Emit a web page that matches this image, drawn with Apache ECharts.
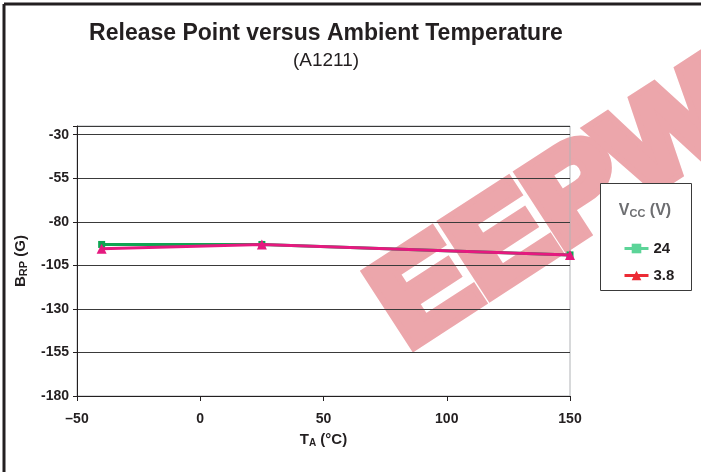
<!DOCTYPE html>
<html>
<head>
<meta charset="utf-8">
<script src="https://cdn.jsdelivr.net/npm/echarts@6/dist/echarts.min.js"></script>
<style>
  html, body { margin: 0; padding: 0; background: #fff; }
  #main { width: 701px; height: 472px; }
</style>
</head>
<body>
<div id="main"></div>
<script>
// temperatures (°C) and release point (G)
var temps = [-40, 25, 150];
var vcc24 = [-93, -93, -99];
var vcc38 = [-95.5, -93, -99];
var seriesNames = ['24', '3.8'];
var yTicks = [-180, -155, -130, -105, -80, -55, -30];

var font = 'Liberation Sans, Arial, sans-serif';
var ink = '#231f20';

function pairs(xs, ys) {
    var out = [];
    for (var i = 0; i < xs.length; i++) {
        out.push([xs[i], ys[i]]);
    }
    return out;
}

var chart = echarts.init(document.getElementById('main'));

var option = {
    backgroundColor: '#fff',
    animation: false,
    textStyle: { fontFamily: font },
    title: {
        text: 'Release Point versus Ambient Temperature',
        subtext: '(A1211)',
        left: 321,
        textAlign: 'center',
        top: 17,
        itemGap: 6,
        textStyle: { fontFamily: font, fontSize: 23, fontWeight: 'bold', color: ink },
        subtextStyle: { fontFamily: font, fontSize: 19, color: ink }
    },
    legend: {
        orient: 'vertical',
        left: 618,
        top: 236,
        itemWidth: 24,
        itemHeight: 12,
        itemGap: 12,
        z: 12,
        textStyle: { fontFamily: font, fontSize: 15, fontWeight: 'bold', color: ink },
        data: [
            { name: '24', itemStyle: { color: '#5cd498' }, lineStyle: { color: '#5cd498', width: 3 } },
            { name: '3.8', itemStyle: { color: '#ec2b35' }, lineStyle: { color: '#ec2b35', width: 3 } }
        ]
    },
    grid: {
        left: 77,
        right: 131,
        top: 126,
        bottom: 76,
        show: true,
        borderColor: '#b0b3b6',
        borderWidth: 1
    },
    xAxis: {
        type: 'value',
        min: -50,
        max: 150,
        interval: 50,
        name: '{t|T}{s|A}{t| (°C)}',
        nameLocation: 'middle',
        nameGap: 36,
        nameTextStyle: {
            rich: {
                t: { fontFamily: font, fontSize: 15, fontWeight: 'bold', color: ink },
                s: { fontFamily: font, fontSize: 10, fontWeight: 'bold', color: ink, verticalAlign: 'bottom', padding: [6, 0, 0, 0] }
            }
        },
        axisLine: { onZero: false, lineStyle: { color: ink, width: 1 } },
        axisTick: { show: true, length: 5, lineStyle: { color: ink } },
        axisLabel: {
            fontFamily: font,
            fontSize: 14,
            fontWeight: 'bold',
            color: ink,
            margin: 16,
            formatter: function (v) { return v < 0 ? '\u2013' + Math.abs(v) : String(v); }
        },
        splitLine: { show: false }
    },
    yAxis: {
        type: 'value',
        min: -180,
        max: -25,
        interval: 25,
        name: '{t|B}{s|RP}{t| (G)}',
        nameLocation: 'middle',
        nameRotate: 90,
        nameGap: 48,
        nameTextStyle: {
            rich: {
                t: { fontFamily: font, fontSize: 15, fontWeight: 'bold', color: ink },
                s: { fontFamily: font, fontSize: 11, fontWeight: 'bold', color: ink, verticalAlign: 'bottom', padding: [5, 0, 0, 0] }
            }
        },
        axisLine: { show: true, onZero: false, lineStyle: { color: ink, width: 1 } },
        axisTick: { show: true, length: 4, lineStyle: { color: ink } },
        axisLabel: {
            fontFamily: font,
            fontSize: 14,
            fontWeight: 'bold',
            color: ink,
            margin: 8,
            formatter: function (v) { return yTicks.indexOf(v) > -1 ? String(v) : ''; }
        },
        splitLine: { show: true, lineStyle: { color: '#3a3a3a', width: 1 } }
    },
    series: [
        {
            name: seriesNames[0],
            type: 'line',
            data: pairs(temps, vcc24),
            symbol: 'rect',
            symbolSize: 7,
            itemStyle: { color: '#0ea552' },
            lineStyle: { color: '#0ea552', width: 3 },
            z: 3
        },
        {
            name: seriesNames[1],
            type: 'line',
            data: pairs(temps, vcc38),
            symbol: 'triangle',
            symbolSize: 10,
            itemStyle: { color: '#e5197f' },
            lineStyle: { color: '#e5197f', width: 3 },
            z: 4
        }
    ],
    graphic: [
        // watermark, behind the grid lines
        {
            type: 'text', x: 389, y: 320, rotation: 33 * Math.PI / 180, scaleX: 1.1, z: -1,
            style: {
                text: 'EEPW',
                align: 'left', verticalAlign: 'middle',
                textAlign: 'left', textVerticalAlign: 'middle',
                fontFamily: font, fontSize: 124, fontWeight: 'bold',
                fill: '#eca6ab', stroke: '#eca6ab', lineWidth: 12, lineJoin: 'miter'
            }
        },
        // page frame (left and top edges)
        { type: 'line', shape: { x1: 4, y1: 4, x2: 701, y2: 4 }, style: { stroke: ink, lineWidth: 3 }, z: 10 },
        { type: 'line', shape: { x1: 4, y1: 4, x2: 4, y2: 472 }, style: { stroke: ink, lineWidth: 3 }, z: 10 },
        // legend box and title
        { type: 'rect', shape: { x: 600.5, y: 183.5, width: 91, height: 107 }, style: { fill: '#fff', stroke: '#3a3a3a', lineWidth: 1 }, z: 1 },
        {
            type: 'text', x: 645, y: 211, z: 10,
            style: {
                text: '{t|V}{s|CC}{t| (V)}',
                align: 'center', verticalAlign: 'middle',
                textAlign: 'center', textVerticalAlign: 'middle',
                rich: {
                    t: { fontFamily: font, fontSize: 16, fontWeight: 'bold', fill: '#6d6e71' },
                    s: { fontFamily: font, fontSize: 11, fontWeight: 'bold', fill: '#6d6e71', verticalAlign: 'bottom', padding: [6, 0, 0, 0] }
                }
            }
        }
    ]
};

chart.setOption(option);
</script>
</body>
</html>
